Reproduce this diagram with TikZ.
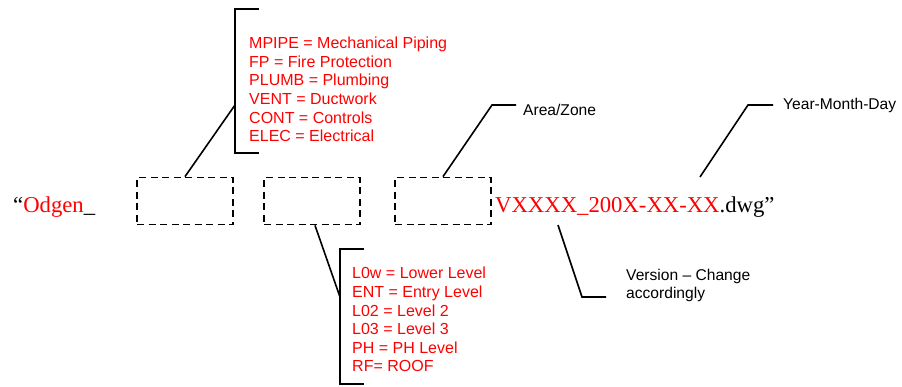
\documentclass[tikz,border=0pt]{standalone}
\usepackage{fontspec}
\setmainfont{Liberation Serif}
\newfontfamily\arialfont[Ligatures=TeX]{Liberation Sans}
\definecolor{labelred}{RGB}{255,0,0}
\tikzset{
  dbox/.style={draw=black, line width=1.8pt, dash pattern=on 7pt off 4.5pt, minimum width=96pt, minimum height=47pt, inner sep=0pt},
  lead/.style={draw=black, line width=1.6pt},
  redlist/.style={font=\arialfont\fontsize{16}{18.6}\selectfont, text=labelred, align=left, inner sep=0pt, anchor=north west},
  blacklabel/.style={font=\arialfont\fontsize{15.6}{17.5}\selectfont, text=black, align=left, inner sep=0pt, anchor=base west},
  maintext/.style={font=\fontsize{22.7}{24}\selectfont, inner sep=0pt, anchor=base west}
}
\begin{document}
\begin{tikzpicture}[x=1pt,y=-1pt]
\useasboundingbox (0,0) rectangle (902,386);
% dashed boxes
\node[dbox] (b1) at (185,201) {};
\node[dbox] (b2) at (312,201) {};
\node[dbox] (b3) at (443,201) {};
% main texts
\node[maintext] (pre) at (13,212) {``\textcolor{labelred}{Odgen}\_};
\node[maintext] (post) at (495,212) {\textcolor{labelred}{VXXXX\_200X-XX-XX}.dwg''};
% top list with bracket
\node[redlist] (topl) at (249,37) {MPIPE = Mechanical Piping\\FP = Fire Protection\\PLUMB = Plumbing\\VENT = Ductwork\\CONT = Controls\\ELEC = Electrical};
\coordinate (t1) at (259,9);
\coordinate (t2) at (235,9);
\coordinate (t3) at (235,153);
\coordinate (t4) at (259,153);
\coordinate (tk) at (235,105);
\draw[lead] (t1) -- (t2) -- (t3) -- (t4);
\draw[lead] (b1.north) -- (tk);
% bottom list with bracket
\node[redlist] (botl) at (352,267) {L0w = Lower Level\\ENT = Entry Level\\L02 = Level 2\\L03 = Level 3\\PH = PH Level\\RF= ROOF};
\coordinate (u1) at (364,249);
\coordinate (u2) at (340,249);
\coordinate (u3) at (340,384);
\coordinate (u4) at (364,384);
\coordinate (uk) at (340,297);
\draw[lead] (u1) -- (u2) -- (u3) -- (u4);
\draw[lead] ([xshift=3pt]b2.south) -- (uk);
% Area/Zone
\node[blacklabel] (area) at (523,115) {Area/Zone};
\coordinate (a1) at (492,105);
\coordinate (a2) at (516,105);
\draw[lead] (b3.north) -- (a1) -- (a2);
% Year-Month-Day
\node[blacklabel] (year) at (783,109.5) {Year-Month-Day};
\coordinate (y0) at (700,177);
\coordinate (y1) at (748,105);
\coordinate (y2) at (773,105);
\draw[lead] (y0) -- (y1) -- (y2);
% Version
\node[blacklabel] (ver) at (626,298) {Version \textendash{} Change\\accordingly};
\coordinate (v0) at (558,225);
\coordinate (v1) at (582,297);
\coordinate (v2) at (606,297);
\draw[lead] (v0) -- (v1) -- (v2);
\end{tikzpicture}
\end{document}
